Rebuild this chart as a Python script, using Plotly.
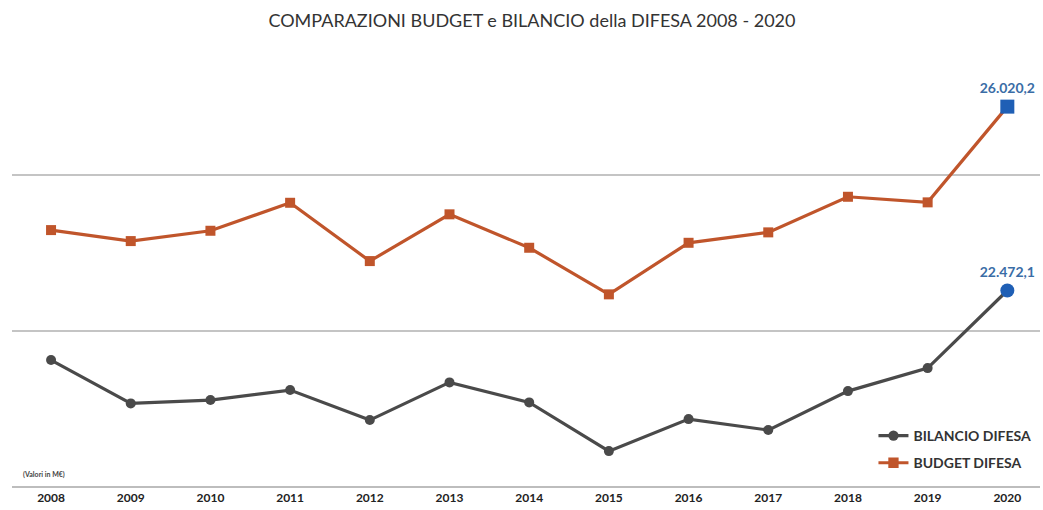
import plotly.graph_objects as go

years = [2008, 2009, 2010, 2011, 2012, 2013, 2014, 2015, 2016, 2017, 2018, 2019, 2020]
budget_difesa = [23638, 23426, 23625, 24165, 23040, 23942, 23297, 22398, 23393, 23594, 24281, 24173, 26020.2]
bilancio_difesa = [21130, 20294, 20358, 20551, 19972, 20699, 20313, 19373, 19991, 19779, 20531, 20975, 22472.1]
grid_values = [18700, 21700, 24700]

title = "COMPARAZIONI BUDGET e BILANCIO della DIFESA 2008 - 2020"
unit_note = "(Valori in M€)"

ORANGE = "#c0552b"
GRAY = "#4a4a4a"
BLUE = "#1f5fb5"
LABEL_BLUE = "#3a6da6"
FONT = "Lato, 'Open Sans', sans-serif"


def it_fmt(v):
    s = f"{v:,.1f}"
    return s.replace(",", "X").replace(".", ",").replace("X", ".")


def last_only(values):
    return ["" for _ in values[:-1]] + [it_fmt(values[-1])]


n = len(years)

fig = go.Figure()

fig.add_trace(go.Scatter(
    x=years, y=bilancio_difesa, name="BILANCIO DIFESA", legendgroup="a",
    mode="lines+markers+text",
    line=dict(color=GRAY, width=3.2),
    marker=dict(symbol="circle", size=[10] * (n - 1) + [14], opacity=1,
                color=[GRAY] * (n - 1) + [BLUE], line=dict(width=0)),
    text=last_only(bilancio_difesa), textposition="top center",
    textfont=dict(family=FONT, size=14, color=LABEL_BLUE, weight="bold"),
    cliponaxis=False,
))

fig.add_trace(go.Scatter(
    x=years, y=budget_difesa, name="BUDGET DIFESA", legendgroup="b",
    mode="lines+markers+text",
    line=dict(color=ORANGE, width=3.2),
    marker=dict(symbol="square", size=[10] * (n - 1) + [14], opacity=1,
                color=[ORANGE] * (n - 1) + [BLUE], line=dict(width=0)),
    text=last_only(budget_difesa), textposition="top center",
    textfont=dict(family=FONT, size=14, color=LABEL_BLUE, weight="bold"),
    cliponaxis=False,
))

fig.update_layout(
    width=1043, height=510,
    margin=dict(l=12, r=3, t=60, b=24),
    paper_bgcolor="white", plot_bgcolor="white",
    font=dict(family=FONT, color="#404040"),
    title=dict(text=title, x=0.51, xanchor="center", y=0.96, yanchor="middle",
               font=dict(family=FONT, size=18, color="#333333")),
    showlegend=True,
    legend=dict(x=0.838, xanchor="left", y=0.155, yanchor="top",
                bgcolor="rgba(0,0,0,0)", font=dict(family=FONT, size=14, color="#333333", weight="bold"),
                traceorder="grouped", tracegroupgap=6, itemwidth=30),
    xaxis=dict(range=[2007.51, 2020.41], tickmode="array", tickvals=years,
               ticktext=[str(y) for y in years], showgrid=False, zeroline=False,
               showline=True, linecolor="#bdbdbd", linewidth=2, ticks="",
               tickfont=dict(family=FONT, size=12, color="#222222", weight="bold")),
    yaxis=dict(range=[18700, 26920], tickmode="array", tickvals=grid_values,
               showticklabels=False, showgrid=True, gridcolor="#c4c4c4", gridwidth=1.5,
               zeroline=False, showline=False),
    annotations=[dict(text=unit_note, xref="paper", yref="paper", x=0.009, y=0.012,
                      xanchor="left", yanchor="bottom", showarrow=False,
                      font=dict(family=FONT, size=7, color="#444444", weight="bold"))],
)

fig.write_html("out.html")
